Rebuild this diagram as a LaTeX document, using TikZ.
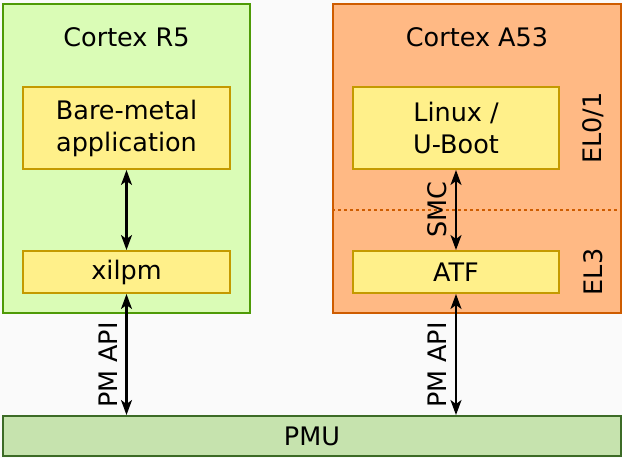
\documentclass[tikz,border=0pt]{standalone}
\usepackage{fontspec}
\setmainfont{DejaVu Sans}
\usetikzlibrary{arrows.meta}
\definecolor{bgcol}{HTML}{FAFAFA}
\definecolor{rfill}{HTML}{DAFCB6}
\definecolor{rline}{HTML}{4E9A06}
\definecolor{afill}{HTML}{FFB984}
\definecolor{aline}{HTML}{CE5C00}
\definecolor{bfill}{HTML}{FFF08A}
\definecolor{bline}{HTML}{C49A00}
\definecolor{pfill}{HTML}{C6E3AE}
\definecolor{pline}{HTML}{3C6B26}
\tikzset{
  core/.style={draw, line width=2pt, minimum width=247pt, minimum height=309pt},
  sw/.style={draw=bline, fill=bfill, line width=2pt, minimum width=207pt, align=center},
  tip/.tip={Stealth[length=15pt,width=11pt,inset=4pt]},
  link/.style={line width=2.2pt, tip-tip},
  vtext/.style={rotate=90}
}
\begin{document}
\begin{tikzpicture}[x=1pt, y=-1pt, font=\fontsize{25.5}{32}\selectfont]
\fill[bgcol] (0,0) rectangle (622,458);
\useasboundingbox (0,0) rectangle (622,458);
\node[core, draw=rline, fill=rfill] (r5) at (126.5,158.5) {};
\node[core, draw=aline, fill=afill, minimum width=288pt] (a53) at (477,158.5) {};
\node (r5t) at (126.5,37) {Cortex R5};
\node (a53t) at (477,37) {Cortex A53};
\draw[aline, line width=1.3pt, dash pattern=on 3pt off 3pt] (a53.west |- 0,210) coordinate (el) -- (a53.east |- el);
\node[sw, minimum height=82pt] (app) at (126.5,128) {Bare-metal\\application};
\node[sw, minimum height=42pt] (xilpm) at (126.5,272) {xilpm};
\node[sw, minimum height=82pt, minimum width=206pt] (linux) at (456,128) {Linux /\\U-Boot};
\node[sw, minimum height=42pt, minimum width=206pt] (atf) at (456,272) {ATF};
\node[draw=pline, fill=pfill, line width=2pt, minimum width=618pt, minimum height=40pt] (pmu) at (312,436) {PMU};
\node[vtext] (el01) at (593,128) {EL0/1};
\node[vtext] (el3) at (593,272) {EL3};
\draw[link] (app) -- (xilpm);
\draw[link] (linux) -- (atf);
\draw[link] (xilpm) -- (xilpm |- pmu.north);
\draw[link] (atf) -- (atf |- pmu.north);
\node[vtext] (smc) at (437,210) {SMC};
\node[vtext] (api1) at (108,365) {PM API};
\node[vtext] (api2) at (437,365) {PM API};
\end{tikzpicture}
\end{document}
